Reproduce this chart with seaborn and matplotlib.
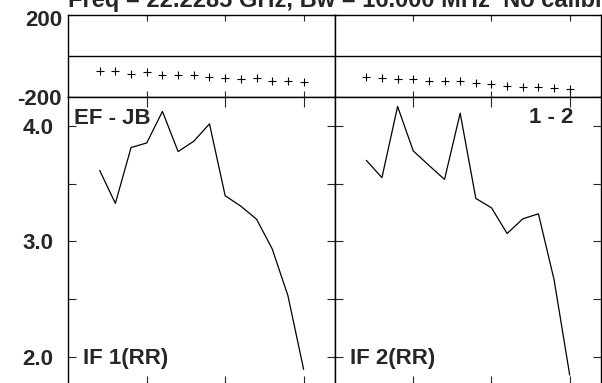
import matplotlib
matplotlib.use("Agg")
import matplotlib.pyplot as plt
import matplotlib.transforms as mtransforms
from matplotlib.ticker import FixedLocator, NullFormatter
import seaborn as sns
import pandas as pd

# ---------------- data ----------------
channels = list(range(2, 16))
phase_if1 = [-71.5, -71.5, -89.4, -79.7, -94.3, -94.3, -94.3, -100.8, -105.7,
             -112.2, -105.7, -120.3, -120.3, -125.2]
phase_if2 = [-102.4, -109.0, -113.8, -113.8, -120.3, -120.3, -123.6, -131.7,
             -136.6, -148.0, -151.2, -152.8, -156.0, -161.0]
amp_if1 = [3.614, 3.328, 3.812, 3.852, 4.125, 3.777, 3.867, 4.017, 3.394,
           3.304, 3.191, 2.933, 2.528, 1.890]
amp_if2 = [3.701, 3.551, 4.168, 3.783, 3.658, 3.536, 4.110, 3.371, 3.290,
           3.067, 3.194, 3.238, 2.667, 1.841]
panel_labels = ["IF 1(RR)", "IF 2(RR)"]
baseline_label = "EF - JB"
corr_label = "1 - 2"
title = "Freq = 22.2285 GHz, Bw = 16.000 MHz  No calibration"
amp_ticks = [2.0, 3.0, 4.0]
amp_minor = [2.5, 3.5]
amp_tick_labels = ["2.0", "3.0", "4.0"]
phase_ticks = [-200, 200]
phase_tick_labels = ["-200", "200"]
x_ticks = [5, 10, 15]

# ---------------- style ----------------
sns.set_style("ticks")
plt.rcParams["font.family"] = ["Liberation Sans", "DejaVu Sans"]
plt.rcParams["font.weight"] = "bold"
plt.rcParams["axes.linewidth"] = 1.0
plt.rcParams["axes.edgecolor"] = "black"

W, H = 602, 383
fig = plt.figure(figsize=(W / 100, H / 100), dpi=100)


def px_axes(x0, y0, x1, y1):
    return fig.add_axes([x0 / W, (H - y1) / H, (x1 - x0) / W, (y1 - y0) / H])


ax_tl = px_axes(68.3, 15, 335, 97)
ax_tr = px_axes(335, 15, 601, 97)
ax_bl = px_axes(68.3, 97, 335, 385.5)
ax_br = px_axes(335, 97, 601, 385.5)

phase_df = [pd.DataFrame({"ch": channels, "ph": phase_if1}),
            pd.DataFrame({"ch": channels, "ph": phase_if2})]
amp_df = [pd.DataFrame({"ch": channels, "amp": amp_if1}),
          pd.DataFrame({"ch": channels, "amp": amp_if2})]

for i, ax in enumerate([ax_tl, ax_tr]):
    sns.scatterplot(data=phase_df[i], x="ch", y="ph", ax=ax, marker="+",
                    s=36, color="black", linewidth=0.8, legend=False)
    ax.axhline(0, color="black", lw=1.0)
    ax.set_xlim(0, 17)
    ax.set_ylim(-200, 200)
    ax.xaxis.set_major_locator(FixedLocator(x_ticks))
    ax.set_yticks(phase_ticks)
    ax.tick_params(axis="x", which="both", direction="in", top=True,
                   bottom=True, length=4.5, width=0.8, labelbottom=False)
    ax.tick_params(axis="y", which="both", direction="in", left=True,
                   right=True, length=4.5, width=0.8, pad=4.5, labelsize=16)
    ax.set_xlabel("")
    ax.set_ylabel("")
    for sp in ax.spines.values():
        sp.set_visible(True)
        sp.set_linewidth(1.0)

ax_tl.set_yticklabels(phase_tick_labels, fontweight="bold")
ax_tr.set_yticklabels([])
# nudge the "200" label slightly down as in the reference
lab = ax_tl.yaxis.get_major_ticks()[1].label1
lab.set_transform(lab.get_transform() +
                  mtransforms.ScaledTranslation(0, -3.5 / 100, fig.dpi_scale_trans))

for i, ax in enumerate([ax_bl, ax_br]):
    sns.lineplot(data=amp_df[i], x="ch", y="amp", ax=ax, color="black",
                 lw=0.9, legend=False)
    ax.set_xlim(0, 17)
    ax.set_ylim(1.75, 4.25)
    ax.xaxis.set_major_locator(FixedLocator(x_ticks))
    ax.yaxis.set_major_locator(FixedLocator(amp_ticks))
    ax.yaxis.set_minor_locator(FixedLocator(amp_minor))
    ax.yaxis.set_minor_formatter(NullFormatter())
    ax.tick_params(axis="x", which="both", direction="in", top=True,
                   bottom=True, length=7.5, width=0.8, labelbottom=False)
    ax.tick_params(axis="y", which="both", direction="in", left=True,
                   right=True, length=6, width=0.8, pad=10.5, labelsize=16)
    ax.set_xlabel("")
    ax.set_ylabel("")
    for sp in ax.spines.values():
        sp.set_visible(True)
        sp.set_linewidth(1.0)
    ax.text(0.055, 0.074, panel_labels[i], transform=ax.transAxes,
            fontsize=16, fontweight="bold", ha="left", va="baseline")

ax_bl.set_yticklabels(amp_tick_labels, fontweight="bold")
ax_br.set_yticklabels([])

ax_bl.text(0.021, 0.906, baseline_label, transform=ax_bl.transAxes,
           fontsize=16, fontweight="bold", ha="left", va="baseline")
ax_br.text(0.895, 0.909, corr_label, transform=ax_br.transAxes,
           fontsize=16, fontweight="bold", ha="right", va="baseline")

fig.text(68 / W, (H - 7.5) / H, title, fontsize=17, fontweight="bold",
         ha="left", va="baseline")

fig.savefig("out.png", dpi=100)
